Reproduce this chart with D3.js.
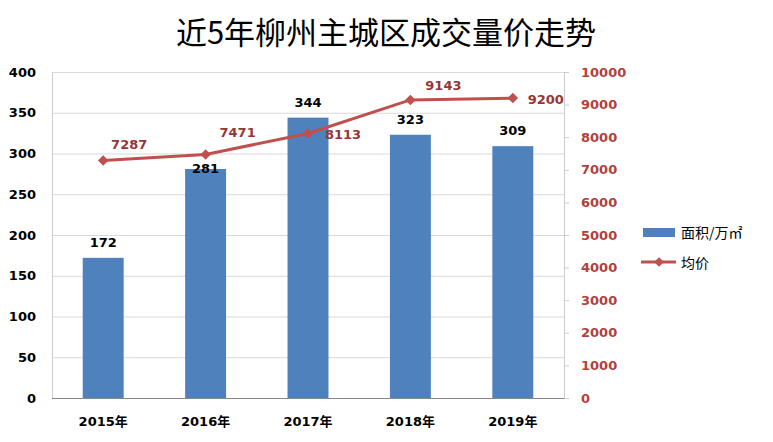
<!DOCTYPE html>
<html><head><meta charset="utf-8">
<script src="https://cdn.jsdelivr.net/npm/d3@7"></script>
<style>body{margin:0;background:#fff}svg{display:block}</style>
</head><body>
<svg id="c" width="773" height="442"></svg>
<script>
const categories = ["2015年","2016年","2017年","2018年","2019年"];
const areaValues = [172, 281, 344, 323, 309];
const priceValues = [7287, 7471, 8113, 9143, 9200];
const leftTicks = [0,50,100,150,200,250,300,350,400];
const rightTicks = [0,1000,2000,3000,4000,5000,6000,7000,8000,9000,10000];
const titleText = "近5年柳州主城区成交量价走势";
const legendLabels = ["面积/万㎡","均价"];

const svg = d3.select("#c");
const m = {l:52, r:564, t:72, b:398};
const x = d3.scaleBand().domain(categories).range([m.l, m.r]).paddingInner(0.6).paddingOuter(0.3);
const yL = d3.scaleLinear().domain([0,400]).range([m.b, m.t]);
const yR = d3.scaleLinear().domain([0,10000]).range([m.b, m.t]);
const font = "'DejaVu Sans', 'Noto Sans CJK SC', sans-serif";
const barColor = "#4f81bd", lineColor = "#c0504d", priceLbl = "#953735", axisRed = "#b2403c";

svg.append("text").attr("x", 386).attr("y", 44).attr("text-anchor","middle")
  .attr("font-family","'Noto Sans CJK SC', sans-serif").attr("font-size",31).attr("fill","#000")
  .text(titleText);

// gridlines
svg.append("g").selectAll("line").data(leftTicks).join("line")
  .attr("x1", m.l).attr("x2", m.r).attr("y1", d=>yL(d)+0.5).attr("y2", d=>yL(d)+0.5)
  .attr("stroke", d=> d===0 ? "#868686" : "#d9d9d9").attr("stroke-width",1);
// left axis line
svg.append("line").attr("x1",m.l+0.5).attr("x2",m.l+0.5).attr("y1",m.t).attr("y2",m.b)
  .attr("stroke","#c8ccd4");
// left axis labels
const gL = svg.append("g").attr("transform",`translate(${m.l},0)`)
  .call(d3.axisLeft(yL).tickValues(leftTicks).tickSize(0).tickPadding(16));
gL.select(".domain").remove();
gL.selectAll("text").attr("font-family",font).attr("font-size",13).attr("font-weight","bold").attr("fill","#000");

// right axis
const gR = svg.append("g").attr("transform",`translate(${m.r},0)`)
  .call(d3.axisRight(yR).tickValues(rightTicks).tickFormat(d3.format("d")).tickSize(5).tickPadding(12));
gR.select(".domain").attr("stroke","#c8ccd4");
gR.selectAll(".tick line").attr("stroke","#c8ccd4");
gR.selectAll("text").attr("font-family",font).attr("font-size",13).attr("font-weight","bold").attr("fill",axisRed);

// bars
svg.append("g").selectAll("rect").data(areaValues).join("rect")
  .attr("x",(d,i)=>x(categories[i])).attr("width",x.bandwidth())
  .attr("y",d=>yL(d)).attr("height",d=>yL(0)-yL(d)).attr("fill",barColor);

// x labels
svg.append("g").selectAll("text").data(categories).join("text")
  .attr("x",d=>x(d)+x.bandwidth()/2).attr("y",426).attr("text-anchor","middle")
  .attr("font-family",font).attr("font-size",13).attr("font-weight","bold").text(d=>d);

// bar labels
const barLblDy = [-11, 4, -11, -11, -11];
svg.append("g").selectAll("text").data(areaValues).join("text")
  .attr("x",(d,i)=>x(categories[i])+x.bandwidth()/2).attr("y",(d,i)=>yL(d)+barLblDy[i])
  .attr("text-anchor","middle").attr("font-family",font).attr("font-size",13).attr("font-weight","bold")
  .attr("fill","#000").text(d=>d);

// line
const cx = (i)=>x(categories[i])+x.bandwidth()/2;
svg.append("path").datum(priceValues)
  .attr("d", d3.line().x((d,i)=>cx(i)).y(d=>yR(d)))
  .attr("fill","none").attr("stroke",lineColor).attr("stroke-width",3);
svg.append("g").selectAll("path").data(priceValues).join("path")
  .attr("transform",(d,i)=>`translate(${cx(i)},${yR(d)})`)
  .attr("d", d3.symbol().type(d3.symbolDiamond2).size(70)).attr("fill",lineColor);

// price labels
const pOff = [[26,-11],[32,-17],[35,5],[33,-10],[33,6]];
svg.append("g").selectAll("text").data(priceValues).join("text")
  .attr("x",(d,i)=>cx(i)+pOff[i][0]).attr("y",(d,i)=>yR(d)+pOff[i][1])
  .attr("text-anchor","middle").attr("font-family",font).attr("font-size",13).attr("font-weight","bold")
  .attr("fill",priceLbl).text(d=>d);

// legend
const lg = svg.append("g");
lg.append("rect").attr("x",643).attr("y",228).attr("width",32).attr("height",9).attr("fill",barColor);
lg.append("text").attr("x",681).attr("y",238).attr("font-family","'Noto Sans CJK SC', sans-serif")
  .attr("font-size",14).text(legendLabels[0]);
lg.append("line").attr("x1",641).attr("x2",676).attr("y1",262).attr("y2",262).attr("stroke",lineColor).attr("stroke-width",3);
lg.append("path").attr("transform","translate(659,262)").attr("d",d3.symbol().type(d3.symbolDiamond2).size(60)).attr("fill",lineColor);
lg.append("text").attr("x",681).attr("y",268).attr("font-family","'Noto Sans CJK SC', sans-serif")
  .attr("font-size",14).text(legendLabels[1]);
</script>
</body></html>
